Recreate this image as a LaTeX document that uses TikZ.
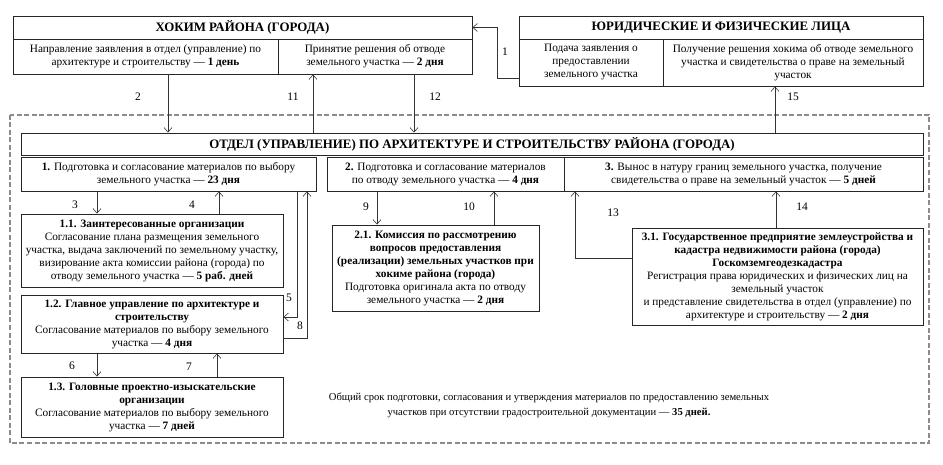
\documentclass[tikz,border=0pt]{standalone}
\usepackage{fontspec}
\setmainfont{Liberation Serif}
\usetikzlibrary{arrows.meta}
\begin{document}
\begin{tikzpicture}[x=1pt,y=-1pt,
  box/.style={draw=black!85, line width=0.9pt, inner sep=1pt, align=center, font=\fontsize{11.3}{13}\selectfont},
  head/.style={box, font=\bfseries\fontsize{12.9}{14}\selectfont},
  arr/.style={draw=black!80, line width=0.6pt, -{Straight Barb[length=4.5pt,width=8pt]}},
  num/.style={font=\fontsize{11.5}{12}\selectfont, inner sep=0pt},
  frame/.style={draw=black!45, line width=1.1pt, dash pattern=on 5pt off 2.5pt}]
\useasboundingbox (0,0) rectangle (943,465);
% outer dashed frame
\draw[frame] (10,115) rectangle (929,443);
% top boxes
\node[head, minimum width=459pt, minimum height=23pt] (hokim) at (242.5,27.5) {ХОКИМ РАЙОНА (ГОРОДА)};
\node[box, minimum width=265pt, minimum height=35pt] (hokimA) at (145.5,56.5) {Направление заявления в отдел (управление) по\\архитектуре и строительству — \textbf{1 день}};
\node[box, minimum width=194pt, minimum height=35pt] (hokimB) at (375,56.5) {Принятие решения об отводе\\земельного участка — \textbf{2 дня}};
\node[head, minimum width=404pt, minimum height=23pt] (legal) at (721,27.5) {ЮРИДИЧЕСКИЕ И ФИЗИЧЕСКИЕ ЛИЦА};
\node[box, minimum width=144pt, minimum height=47pt] (legalA) at (591,62.5) {Подача заявления о\\предоставлении\\земельного участка};
\node[box, minimum width=260pt, minimum height=47pt] (legalB) at (793,62.5) {Получение решения хокима об отводе земельного\\участка и свидетельства о праве на земельный\\участок};
% department
\node[head, minimum width=902pt, minimum height=22pt] (otdel) at (472,144) {ОТДЕЛ (УПРАВЛЕНИЕ) ПО АРХИТЕКТУРЕ И СТРОИТЕЛЬСТВУ РАЙОНА (ГОРОДА)};
\node[box, minimum width=295pt, minimum height=34pt] (b1) at (168.5,174) {\textbf{1.} Подготовка и согласование материалов по выбору\\земельного участка — \textbf{23 дня}};
\node[box, minimum width=237pt, minimum height=34pt] (b2) at (445.5,174) {\textbf{2.} Подготовка и согласование материалов\\по отводу земельного участка — \textbf{4 дня}};
\node[box, minimum width=359pt, minimum height=34pt] (b3) at (743.5,174) {\textbf{3.} Вынос в натуру границ земельного участка, получение\\свидетельства о праве на земельный участок — \textbf{5 дней}};
\node[box, minimum width=262pt, minimum height=73pt] (b11) at (152,250.5) {\textbf{1.1. Заинтересованные организации}\\Согласование плана размещения земельного\\участка, выдача заключений по земельному участку,\\визирование акта комиссии района (города) по\\отводу земельного участка — \textbf{5 раб. дней}};
\node[box, minimum width=262pt, minimum height=58pt] (b12) at (152,324) {\textbf{1.2. Главное управление по архитектуре и}\\\textbf{строительству}\\Согласование материалов по выбору земельного\\участка — \textbf{4 дня}};
\node[box, minimum width=262pt, minimum height=60pt] (b13) at (152,407) {\textbf{1.3. Головные проектно-изыскательские}\\\textbf{организации}\\Согласование материалов по выбору земельного\\участка — \textbf{7 дней}};
\node[box, minimum width=207pt, minimum height=86pt] (b21) at (435.5,268) {\textbf{2.1. Комиссия по рассмотрению}\\\textbf{вопросов предоставления}\\\textbf{(реализации) земельных участков при}\\\textbf{хокиме района (города)}\\Подготовка оригинала акта по отводу\\земельного участка — \textbf{2 дня}};
\node[box, minimum width=291pt, minimum height=97pt] (b31) at (777.5,276.5) {\textbf{3.1. Государственное предприятие землеустройства и}\\\textbf{кадастра недвижимости района (города)}\\\textbf{Госкомземгеодезкадастра}\\Регистрация права юридических и физических лиц на\\земельный участок\\и представление свидетельства в отдел (управление) по\\архитектуре и строительству — \textbf{2 дня}};
\node[align=center, inner sep=0pt, font=\fontsize{10.6}{15}\selectfont] (sum) at (549,405) {Общий срок подготовки, согласования и утверждения материалов по предоставлению земельных\\участков при отсутствии градостроительной документации — \textbf{35 дней.}};
% connector helper coordinates
\coordinate (k1) at (497,78);
\coordinate (x2) at (168,0);
\coordinate (x11) at (313,0);
\coordinate (x12) at (414,0);
\coordinate (x15) at (775,0);
\coordinate (x3) at (97,0);
\coordinate (x4) at (219,0);
\coordinate (k5) at (297,317);
\coordinate (k8) at (307,338);
\coordinate (x6) at (97,0);
\coordinate (x7) at (217,0);
\coordinate (x9) at (377,0);
\coordinate (x10) at (494,0);
\coordinate (k13) at (575,258);
\coordinate (x14) at (776,0);
% connectors
\draw[arr] (k1 -| legalA.west) -- (k1) |- (hokim.east);
\draw[arr] (x2 |- hokimA.south) -- (x2 |- otdel.north);
\draw[arr] (x11 |- otdel.north) -- (x11 |- hokimB.south);
\draw[arr] (x12 |- hokimB.south) -- (x12 |- otdel.north);
\draw[arr] (x15 |- otdel.north) -- (x15 |- legalB.south);
\draw[arr] (x3 |- b1.south) -- (x3 |- b11.north);
\draw[arr] (x4 |- b11.north) -- (x4 |- b1.south);
\draw[arr] (k5 |- b1.south) -- (k5) -- (k5 -| b12.east);
\draw[arr] (k8 -| b12.east) -- (k8) -- (k8 |- b1.south);
\draw[arr] (x6 |- b12.south) -- (x6 |- b13.north);
\draw[arr] (x7 |- b13.north) -- (x7 |- b12.south);
\draw[arr] (x9 |- b2.south) -- (x9 |- b21.north);
\draw[arr] (x10 |- b21.north) -- (x10 |- b2.south);
\draw[arr] (k13 -| b31.west) -- (k13) -- (k13 |- b3.south);
\draw[arr] (x14 |- b31.north) -- (x14 |- b3.south);
% labels
\node[num] (n1) at (505,52) {1};
\node[num] (n2) at (138,97) {2};
\node[num] (n11) at (293,97) {11};
\node[num] (n12) at (435,97) {12};
\node[num] (n15) at (793,97) {15};
\node[num] (n3) at (75,205) {3};
\node[num] (n4) at (192,205) {4};
\node[num] (n5) at (289,298) {5};
\node[num] (n8) at (300,326) {8};
\node[num] (n6) at (72,366) {6};
\node[num] (n7) at (189,367) {7};
\node[num] (n9) at (366,207) {9};
\node[num] (n10) at (469,207) {10};
\node[num] (n13) at (613,213) {13};
\node[num] (n14) at (802,207) {14};
\end{tikzpicture}
\end{document}
